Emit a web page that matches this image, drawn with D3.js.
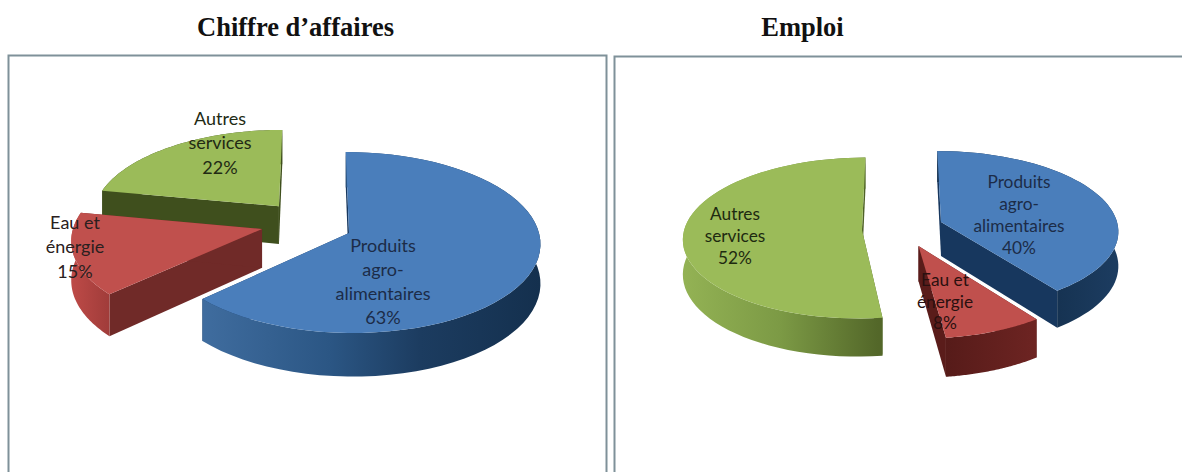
<!DOCTYPE html>
<html>
<head>
<meta charset="utf-8">
<script src="https://cdn.jsdelivr.net/npm/d3@7"></script>
<style>
  html, body { margin: 0; padding: 0; background: #fff; overflow: hidden; }
</style>
</head>
<body>
<div class="canvas"></div>
<script>
// chart data
const categories = ['Produits agro-alimentaires', 'Eau et énergie', 'Autres services'];
const chiffreValues = [63, 15, 22];
const emploiValues = [40, 8, 52];
const titles = ['Chiffre d’affaires', 'Emploi'];
const chiffreLabels = [['Produits', 'agro-', 'alimentaires', '63%'], ['Eau et', 'énergie', '15%'], ['Autres', 'services', '22%']];
const emploiLabels = [['Produits', 'agro-', 'alimentaires', '40%'], ['Eau et', 'énergie', '8%'], ['Autres', 'services', '52%']];

const width = 1182;
const height = 472;

const svg = d3.select('.canvas')
    .append('svg')
    .attr('width', width)
    .attr('height', height)
    .style('display', 'block');

const defs = svg.append('defs');

// one config per pie: projection of the unit disk + explode offsets (in disk units)
const leftPie = {
    name: 'ca', cx: 315, cy: 233, rx: 190, ry: 89.5, persp: 0.105, depth: 39,
    explode: [[0.179, 0], [-0.28, -0.045], [-0.196, -0.31]],
    drawOrder: [2, 1, 0],
    labelFont: 18,
    labelPos: [[383, 247, 24.3], [75, 224, 24.5], [220, 120, 24.5]],
    labelColor: ['#1c2c48', '#2a2020', '#222a14'],
    wall: [
        [[205, '#3f6c9e'], [330, '#2b5684'], [420, '#1c3c60'], [540, '#14304e']],
        [[72, '#bd4a47'], [115, '#9c3a38']],
        [[100, '#3f4f1d'], [280, '#3f4f1d']]
    ],
    face: ['#17375e', '#702a28', '#3f4f1d']
};

const rightPie = {
    name: 'emploi', cx: 900, cy: 222, rx: 176, ry: 78, persp: 0.1, depth: 34,
    explode: [[0.233, 0], [0.102, 0.3], [-0.214, 0.1]],
    drawOrder: [2, 0, 1],
    labelFont: 17.3,
    labelPos: [[1019, 184, 22], [945, 282, 21.5], [735, 216, 22]],
    labelColor: ['#1c2c48', '#2a1010', '#1e2a10'],
    wall: [
        [[1040, '#14304e'], [1115, '#1c3c60']],
        [[945, '#561b19'], [1035, '#6d2422']],
        [[684, '#93b254'], [780, '#7c9a45'], [878, '#536729']]
    ],
    face: ['#17375e', '#5a1c1a', '#4f6227']
};

const topColors = ['#4a7ebb', '#c0504d', '#9bbb59'];

const line = d3.line();
const pie = d3.pie().sort(null).value(d => d);

function project(conf, u, v, h) {
    const s = 1 / (1 - conf.persp * v);
    return [conf.cx + conf.rx * u * s, conf.cy + conf.ry * v * s + conf.depth * h * s];
}

function drawPie(conf, values, labels) {
    const g = svg.append('g');
    const slices = pie(values);

    conf.drawOrder.forEach(i => {
        const d = slices[i];
        const [ox, oy] = conf.explode[i];
        const steps = d3.range(0, 61).map(k => d.startAngle + (d.endAngle - d.startAngle) * k / 60);
        const rim = h => steps.map(a => project(conf, ox + Math.sin(a), oy - Math.cos(a), h));
        const apex = h => project(conf, ox, oy, h);
        const edge = (a, h) => project(conf, ox + Math.sin(a), oy - Math.cos(a), h);

        const gradId = 'wall-' + conf.name + '-' + i;
        const stops = conf.wall[i];
        const grad = defs.append('linearGradient')
            .attr('id', gradId)
            .attr('gradientUnits', 'userSpaceOnUse')
            .attr('x1', stops[0][0]).attr('x2', stops[stops.length - 1][0])
            .attr('y1', 0).attr('y2', 0);
        stops.forEach(s => {
            grad.append('stop')
                .attr('offset', (s[0] - stops[0][0]) / (stops[stops.length - 1][0] - stops[0][0]))
                .attr('stop-color', s[1]);
        });

        // radial faces first, then outer wall, top last
        [d.startAngle, d.endAngle].forEach(a => {
            g.append('path')
                .attr('d', line([apex(0), edge(a, 0), edge(a, 1), apex(1)]) + 'Z')
                .attr('fill', conf.face[i]);
        });
        g.append('path')
            .attr('d', line(rim(0).concat(rim(1).reverse())) + 'Z')
            .attr('fill', 'url(#' + gradId + ')');
        g.append('path')
            .attr('d', line([apex(0)].concat(rim(0))) + 'Z')
            .attr('fill', topColors[i]);
    });

    // labels over all the slices
    labels.forEach((lines, i) => {
        const [x, y, dy] = conf.labelPos[i];
        const t = g.append('text')
            .attr('text-anchor', 'middle')
            .attr('font-family', 'Lato, "Open Sans", sans-serif')
            .attr('font-size', conf.labelFont)
            .attr('fill', conf.labelColor[i]);
        lines.forEach((l, k) => {
            t.append('tspan')
                .attr('x', x)
                .attr('y', y + k * dy)
                .attr('dominant-baseline', 'middle')
                .text(l);
        });
    });
}

// panel frames, they run off the bottom of the picture
svg.append('rect')
    .attr('x', 8.5).attr('y', 55.5).attr('width', 598).attr('height', 440)
    .attr('fill', '#fff').attr('stroke', '#7f9199').attr('stroke-width', 2);
svg.append('rect')
    .attr('x', 614.5).attr('y', 56.5).attr('width', 600).attr('height', 440)
    .attr('fill', '#fff').attr('stroke', '#7f9199').attr('stroke-width', 2);

// titles
svg.selectAll('text.title')
    .data(titles)
    .enter().append('text')
    .attr('class', 'title')
    .attr('x', (d, i) => i === 0 ? 295.5 : 802.5)
    .attr('y', 36)
    .attr('text-anchor', 'middle')
    .attr('font-family', '"Liberation Serif", serif')
    .attr('font-weight', 'bold')
    .attr('font-size', 26.5)
    .attr('fill', '#111')
    .text(d => d);

drawPie(leftPie, chiffreValues, chiffreLabels);
drawPie(rightPie, emploiValues, emploiLabels);
</script>
</body>
</html>
